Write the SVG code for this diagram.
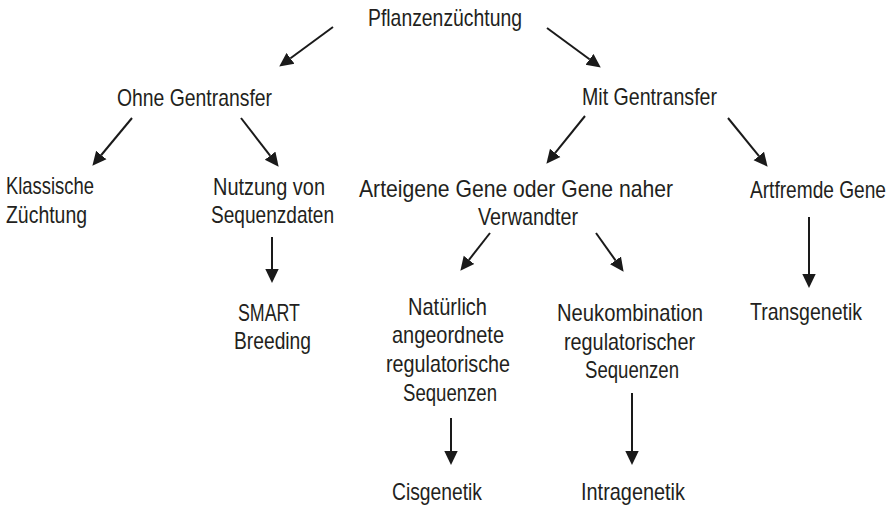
<svg xmlns="http://www.w3.org/2000/svg" width="894" height="509" viewBox="0 0 894 509">
<style>
  text { font-family: "Liberation Sans Narrow", "Liberation Sans", Arial, sans-serif; font-size: 24px; fill: #231f20; }
  .c { stroke: #1a1a1a; stroke-width: 2; fill: none; marker-end: url(#ah); }
</style>
<defs>
  <marker id="ah" markerUnits="userSpaceOnUse" markerWidth="15" markerHeight="15" refX="0" refY="7.5" orient="auto">
    <path d="M0,0.8 L14,7.5 L0,14.2 z" fill="#1a1a1a"/>
  </marker>
</defs>
<rect width="894" height="509" fill="#ffffff"/>
<g id="connectors">
  <line class="c" x1="333" y1="27" x2="290.5" y2="58.3"/>
  <line class="c" x1="547" y1="28" x2="589.5" y2="59.3"/>
  <line class="c" x1="585" y1="116" x2="555.2" y2="152.9"/>
  <line class="c" x1="728" y1="118" x2="758.8" y2="155.9"/>
  <line class="c" x1="132" y1="118" x2="101.3" y2="155"/>
  <line class="c" x1="241" y1="118" x2="270.1" y2="155.7"/>
  <line class="c" x1="272" y1="237" x2="272" y2="269"/>
  <line class="c" x1="490" y1="233" x2="469" y2="259.8"/>
  <line class="c" x1="596" y1="233" x2="615.5" y2="260.4"/>
  <line class="c" x1="451" y1="418" x2="451" y2="451"/>
  <line class="c" x1="632" y1="393" x2="632" y2="451"/>
  <line class="c" x1="809" y1="217" x2="809" y2="274"/>
</g>
<g id="n-pflanzen"><text x="368" y="26" textLength="154" lengthAdjust="spacingAndGlyphs">Pflanzenzüchtung</text></g>
<g id="n-ohne"><text x="117" y="106" textLength="155" lengthAdjust="spacingAndGlyphs">Ohne Gentransfer</text></g>
<g id="n-mit"><text x="582" y="105" textLength="135" lengthAdjust="spacingAndGlyphs">Mit Gentransfer</text></g>
<g id="n-klassisch">
  <text x="6" y="194" textLength="88" lengthAdjust="spacingAndGlyphs">Klassische</text>
  <text x="6" y="223" textLength="81" lengthAdjust="spacingAndGlyphs">Züchtung</text>
</g>
<g id="n-nutzung">
  <text x="213" y="195" textLength="112" lengthAdjust="spacingAndGlyphs">Nutzung von</text>
  <text x="211" y="223" textLength="123" lengthAdjust="spacingAndGlyphs">Sequenzdaten</text>
</g>
<g id="n-smart">
  <text x="238" y="321" textLength="62" lengthAdjust="spacingAndGlyphs">SMART</text>
  <text x="234" y="349" textLength="77" lengthAdjust="spacingAndGlyphs">Breeding</text>
</g>
<g id="n-arteigen">
  <text x="359" y="197" textLength="314" lengthAdjust="spacingAndGlyphs">Arteigene Gene oder Gene naher</text>
  <text x="478" y="225" textLength="100" lengthAdjust="spacingAndGlyphs">Verwandter</text>
</g>
<g id="n-artfremd"><text transform="translate(750,198) scale(0.8,1)" x="0" y="0" textLength="170" lengthAdjust="spacingAndGlyphs">Artfremde Gene</text></g>
<g id="n-trans"><text x="750" y="320" textLength="112" lengthAdjust="spacingAndGlyphs">Transgenetik</text></g>
<g id="n-natuerlich">
  <text x="408" y="315" textLength="79" lengthAdjust="spacingAndGlyphs">Natürlich</text>
  <text x="392" y="343" textLength="112" lengthAdjust="spacingAndGlyphs">angeordnete</text>
  <text x="386" y="372" textLength="124" lengthAdjust="spacingAndGlyphs">regulatorische</text>
  <text x="403" y="401" textLength="94" lengthAdjust="spacingAndGlyphs">Sequenzen</text>
</g>
<g id="n-neukombination">
  <text x="557" y="321" textLength="146" lengthAdjust="spacingAndGlyphs">Neukombination</text>
  <text x="564" y="350" textLength="131" lengthAdjust="spacingAndGlyphs">regulatorischer</text>
  <text x="585" y="378" textLength="94" lengthAdjust="spacingAndGlyphs">Sequenzen</text>
</g>
<g id="n-cis"><text x="392" y="500" textLength="90" lengthAdjust="spacingAndGlyphs">Cisgenetik</text></g>
<g id="n-intra"><text x="581" y="500" textLength="104" lengthAdjust="spacingAndGlyphs">Intragenetik</text></g>
</svg>
